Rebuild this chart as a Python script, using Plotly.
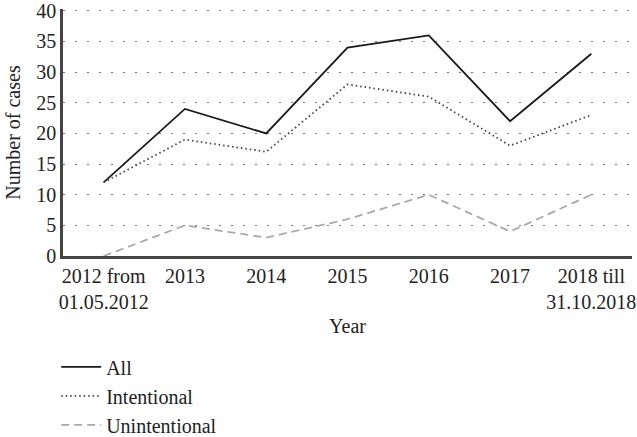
import plotly.graph_objects as go

years = ["2012 from<br>01.05.2012", "2013", "2014", "2015", "2016", "2017", "2018 till<br>31.10.2018"]
all_cases = [12, 24, 20, 34, 36, 22, 33]
intentional = [12, 19, 17, 28, 26, 18, 23]
unintentional = [0, 5, 3, 6, 10, 4, 10]

FONT = "Liberation Serif"
fig = go.Figure()
fig.add_trace(go.Scatter(x=years, y=all_cases, mode="lines", name="All",
                         line=dict(color="#1a1a1a", width=1.8, dash="solid")))
fig.add_trace(go.Scatter(x=years, y=intentional, mode="lines", name="Intentional",
                         line=dict(color="#444444", width=1.8, dash="1.5px,3px")))
fig.add_trace(go.Scatter(x=years, y=unintentional, mode="lines", name="Unintentional",
                         line=dict(color="#aaaaaa", width=1.8, dash="8px,5px")))

fig.update_layout(
    width=637, height=437,
    margin=dict(l=63, r=5, t=9, b=181, autoexpand=False),
    paper_bgcolor="white", plot_bgcolor="white",
    font=dict(family=FONT, size=20, color="#222222"),
    showlegend=True,
    legend=dict(x=-0.012, y=0.205, xref="paper", yref="container",
                xanchor="left", yanchor="top",
                font=dict(family=FONT, size=20), tracegroupgap=0,
                itemwidth=40, bgcolor="rgba(0,0,0,0)"),
    xaxis=dict(type="category", range=[-0.5, 6.5], showgrid=False, automargin=False,
               showline=True, linecolor="#444444", linewidth=2.5,
               ticks="", tickfont=dict(size=20),
               title=dict(text="Year", font=dict(size=20), standoff=8)),
    yaxis=dict(range=[0, 40.3], tickvals=[0, 5, 10, 15, 20, 25, 30, 35, 40],
               ticklabeloverflow="allow",
               showgrid=True, gridcolor="#777777", automargin=False,
               griddash="1.5px,10.5px", gridwidth=1.2, zeroline=False,
               showline=True, linecolor="#444444", linewidth=2.5,
               ticks="", tickfont=dict(size=20),
               title=dict(text="Number of cases", font=dict(size=20), standoff=11)),
)

fig.write_html("out.html", config={"displayModeBar": False},
               post_script="document.body.style.margin='0';document.body.style.overflow='hidden';")
